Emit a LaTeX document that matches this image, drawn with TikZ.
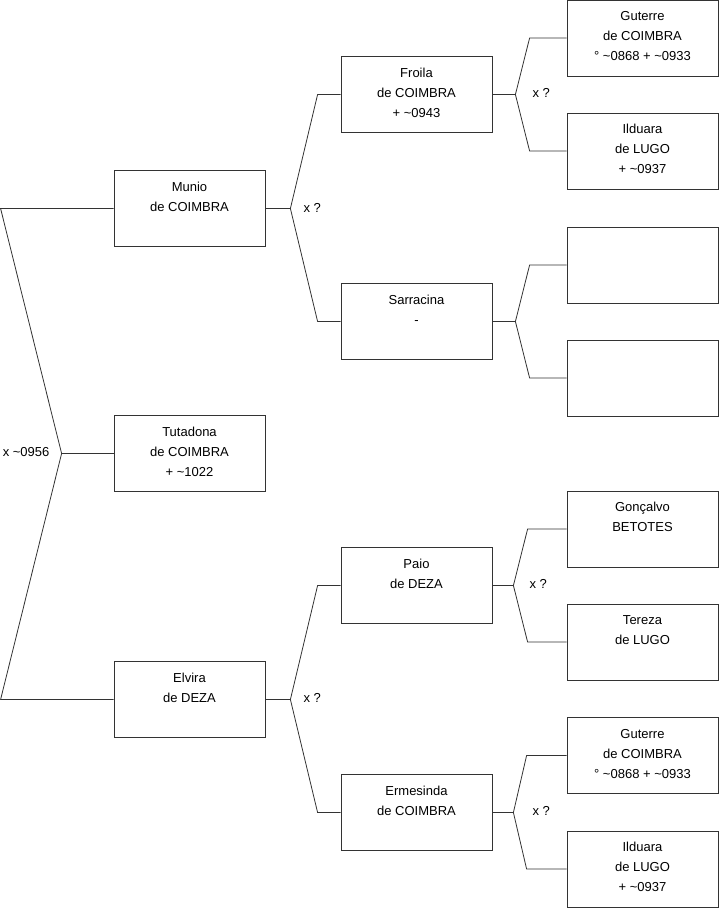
\documentclass[tikz,border=0pt]{standalone}
\usepackage{fontspec}
\setmainfont{Liberation Sans}
\usetikzlibrary{calc}
\definecolor{treeline}{RGB}{51,51,51}
\newcommand{\tl}{\textasciitilde}
\newcommand{\famtext}[1]{\parbox[c][76pt][t]{151pt}{\centering\rule{0pt}{20.5pt}#1}}

\begin{document}
\begin{tikzpicture}[x=1pt, y=-1pt, font=\fontsize{13}{20}\selectfont,
  person/.style={draw=treeline, line width=0.8pt, inner sep=0pt},
  link/.style={draw=treeline, line width=0.8pt},
  marr/.style={inner sep=0pt, anchor=west}]
\useasboundingbox (0,0) rectangle (719,908);
% generation 1
\node[person] (munio) at (189.5,208.5) {\famtext{Munio\\de COIMBRA}};
\node[person] (tuta) at (189.5,453.5) {\famtext{Tutadona\\de COIMBRA\\+ \tl1022}};
\node[person] (elvira) at (189.5,699.5) {\famtext{Elvira\\de DEZA}};
% generation 2
\node[person] (froila) at (416.5,94.5) {\famtext{Froila\\de COIMBRA\\+ \tl0943}};
\node[person] (sarra) at (416.5,321.5) {\famtext{Sarracina\\-}};
\node[person] (paio) at (416.5,585.5) {\famtext{Paio\\de DEZA}};
\node[person] (ermes) at (416.5,812.5) {\famtext{Ermesinda\\de COIMBRA}};
% generation 3
\node[person] (guterreA) at (642.5,38) {\famtext{Guterre\\de COIMBRA\\° \tl0868 + \tl0933}};
\node[person] (ilduaraA) at (642.5,151) {\famtext{Ilduara\\de LUGO\\+ \tl0937}};
\node[person] (blankA) at (642.5,265) {\famtext{}};
\node[person] (blankB) at (642.5,378) {\famtext{}};
\node[person] (goncalvo) at (642.5,529) {\famtext{Gonçalvo\\BETOTES}};
\node[person] (tereza) at (642.5,642) {\famtext{Tereza\\de LUGO}};
\node[person] (guterreB) at (642.5,755.5) {\famtext{Guterre\\de COIMBRA\\° \tl0868 + \tl0933}};
\node[person] (ilduaraB) at (642.5,869) {\famtext{Ilduara\\de LUGO\\+ \tl0937}};

% root fork
\draw[link] (munio.west) -- ++(-113,0) -- ($(tuta.west)+(-52,0)$) coordinate (root)
  -- ($(elvira.west)+(-113,0)$) -- (elvira.west);
\draw[link] (root) -- (tuta.west);
\node[inner sep=0pt, anchor=east] (marr0) at ($(root)+(-12,-1)$) {x \tl0956};

% Munio
\draw[link] (munio.east) -- ++(25,0) coordinate (forkM);
\draw[link] (froila.west) -- ++(-23,0) -- (forkM) -- ($(sarra.west)+(-23,0)$) -- (sarra.west);
\node[marr] (marrM) at ($(forkM)+(13,-1)$) {x ?};
% Froila
\draw[link] (froila.east) -- ++(23,0) coordinate (forkF);
\draw[link] (guterreA.west) -- ++(-37,0) -- (forkF) -- ($(ilduaraA.west)+(-37,0)$) -- (ilduaraA.west);
\node[marr] (marrF) at ($(forkF)+(17,-2)$) {x ?};
% Sarracina
\draw[link] (sarra.east) -- ++(23,0) coordinate (forkS);
\draw[link] (blankA.west) -- ++(-37,0) -- (forkS) -- ($(blankB.west)+(-37,0)$) -- (blankB.west);
% Elvira
\draw[link] (elvira.east) -- ++(25,0) coordinate (forkE);
\draw[link] (paio.west) -- ++(-23,0) -- (forkE) -- ($(ermes.west)+(-23,0)$) -- (ermes.west);
\node[marr] (marrE) at ($(forkE)+(13,-2)$) {x ?};
% Paio
\draw[link] (paio.east) -- ++(21,0) coordinate (forkP);
\draw[link] (goncalvo.west) -- ++(-39,0) -- (forkP) -- ($(tereza.west)+(-39,0)$) -- (tereza.west);
\node[marr] (marrP) at ($(forkP)+(16,-2)$) {x ?};
% Ermesinda
\draw[link] (ermes.east) -- ++(21,0) coordinate (forkR);
\draw[link] (guterreB.west) -- ++(-40,0) -- (forkR) -- ($(ilduaraB.west)+(-40,0)$) -- (ilduaraB.west);
\node[marr] (marrR) at ($(forkR)+(19,-2)$) {x ?};
\end{tikzpicture}
\end{document}
